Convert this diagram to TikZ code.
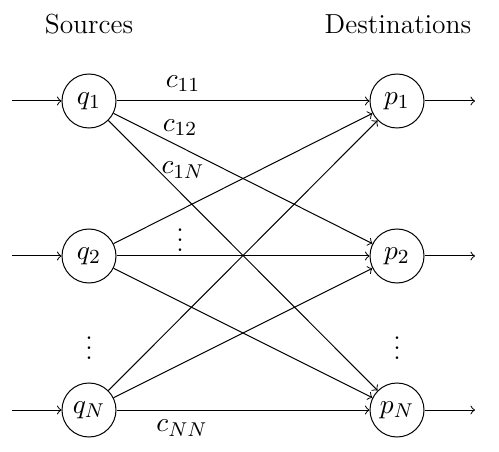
\documentclass[tikz,border=0pt]{standalone}
\begin{document}
\begin{tikzpicture}[x=0.4pt,y=-0.4pt,
  every node/.style={font=\fontsize{11}{13}\selectfont},
  nd/.style={circle,draw,minimum size=21.6pt,inner sep=0pt},
  lnk/.style={->},
  lbl/.style={inner sep=1pt}]
\useasboundingbox (0,0) rectangle (499,452);
\node (src) at (89,24) {Sources};
\node (dst) at (398,24) {Destinations};
\node[nd] (q1) at (89,101) {$q_1$};
\node[nd] (q2) at (89,256) {$q_2$};
\node[nd] (qN) at (89,410) {$q_N$};
\node[nd] (p1) at (397,101) {$p_1$};
\node[nd] (p2) at (397,256) {$p_2$};
\node[nd] (pN) at (397,410) {$p_N$};
\node (ldots) at (89,341) {$\vdots$};
\node (rdots) at (397,341) {$\vdots$};
\node (mdots) at (180,233) {$\vdots$};
\coordinate (i1) at (12,101);
\coordinate (i2) at (12,256);
\coordinate (iN) at (12,410);
\coordinate (o1) at (475,101);
\coordinate (o2) at (475,256);
\coordinate (oN) at (475,410);
\draw[lnk] (i1) -- (q1);
\draw[lnk] (i2) -- (q2);
\draw[lnk] (iN) -- (qN);
\draw[lnk] (p1) -- (o1);
\draw[lnk] (p2) -- (o2);
\draw[lnk] (pN) -- (oN);
\foreach \a in {q1,q2,qN}{
  \foreach \b in {p1,p2,pN}{
    \draw[lnk] (\a) -- (\b);
  }
}
\node[lbl] (c11) at (183,84) {$c_{11}$};
\node[lbl] (c12) at (180,128) {$c_{12}$};
\node[lbl] (c1N) at (183,170) {$c_{1N}$};
\node[lbl] (cNN) at (182,428) {$c_{NN}$};
\end{tikzpicture}
\end{document}
